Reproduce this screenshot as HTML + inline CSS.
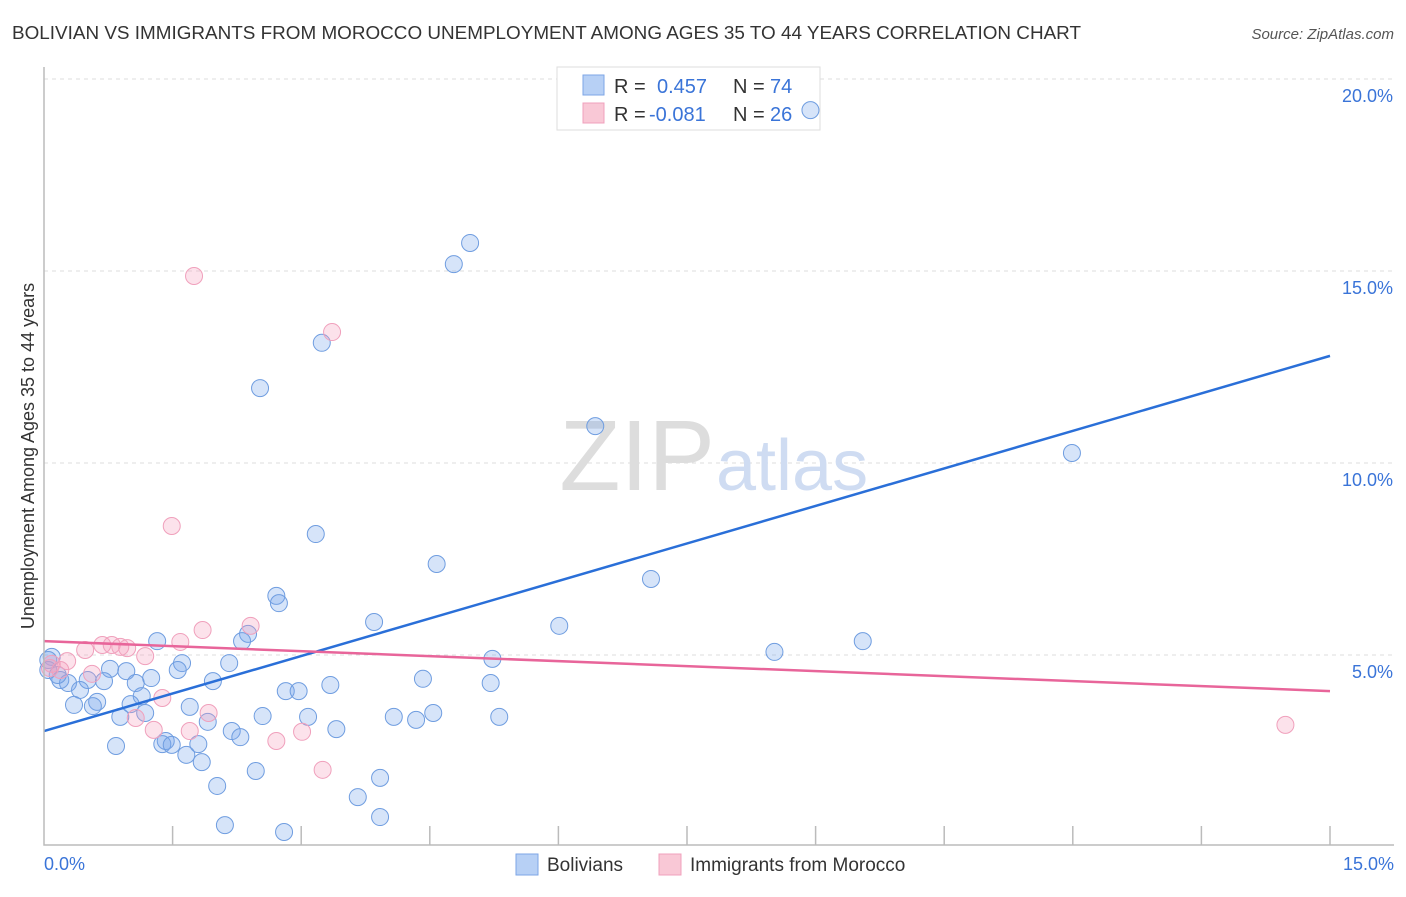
<!DOCTYPE html>
<html><head><meta charset="utf-8"><style>
body{margin:0;background:#fff;font-family:"Liberation Sans",sans-serif}
svg text{font-family:"Liberation Sans",sans-serif}
</style></head><body>
<svg width="1406" height="892" viewBox="0 0 1406 892">
<text x="12" y="39" font-size="18" fill="#333" textLength="1069" lengthAdjust="spacingAndGlyphs">BOLIVIAN VS IMMIGRANTS FROM MOROCCO UNEMPLOYMENT AMONG AGES 35 TO 44 YEARS CORRELATION CHART</text>
<text x="1394" y="39" font-size="15" fill="#555" text-anchor="end" font-style="italic">Source: ZipAtlas.com</text>
<g id="grid"></g>
<text x="715" y="490" font-size="100" fill="#ddd" text-anchor="end" font-family="Liberation Serif">ZIP</text>
<text x="716" y="490" font-size="72" fill="#cfdcf2">atlas</text>
<g>
<rect x="557" y="67" width="263" height="63" fill="#fff" stroke="#ddd"/>
<rect x="583" y="75" width="21" height="20" fill="#b7d0f5" stroke="#7ea6e6"/>
<rect x="583" y="103" width="21" height="20" fill="#f9c8d6" stroke="#f0a0bc"/>
<text x="614" y="93" font-size="20" fill="#333">R = </text><text x="657" y="93" font-size="20" fill="#3a74d8">0.457</text>
<text x="733" y="93" font-size="20" fill="#333">N = </text><text x="770" y="93" font-size="20" fill="#3a74d8">74</text>
<text x="614" y="121" font-size="20" fill="#333">R = </text><text x="649" y="121" font-size="20" fill="#3a74d8">-0.081</text>
<text x="733" y="121" font-size="20" fill="#333">N = </text><text x="770" y="121" font-size="20" fill="#3a74d8">26</text>
</g>
<g id="marks"></g>
<g id="axes"></g>
<text x="34" y="456" font-size="18" fill="#333" text-anchor="middle" transform="rotate(-90 34 456)">Unemployment Among Ages 35 to 44 years</text>
<g>
<rect x="516" y="854" width="22" height="21" fill="#b7d0f5" stroke="#7ea6e6"/>
<text x="547" y="871" font-size="19" fill="#333">Bolivians</text>
<rect x="659" y="854" width="22" height="21" fill="#f9c8d6" stroke="#f0a0bc"/>
<text x="690" y="871" font-size="19" fill="#333">Immigrants from Morocco</text>
</g>
</svg>
<script>
const yTicks=[5,10,15,20];
const yTickLabels=["5.0%","10.0%","15.0%","20.0%"];
const xTickVals=[0,1.5,3,4.5,6,7.5,9,10.5,12,13.5,15];
const xLabels=["0.0%","15.0%"];
const blueX=[8.94,4.97,4.78,3.24,2.52,6.43,11.99,3.17,4.58,7.08,2.71,2.74,3.85,6.01,1.32,2.38,2.31,9.55,8.52,5.23,1.61,2.16,0.09,0.05,0.77,1.56,0.96,0.19,0.28,1.07,1.25,1.97,0.70,0.51,0.42,3.34,4.42,5.21,2.82,2.97,1.14,0.35,0.62,0.57,1.01,1.70,0.89,1.18,2.55,3.08,4.08,4.54,5.31,1.91,4.34,2.19,2.29,3.41,1.42,1.38,1.49,1.80,0.84,1.66,1.84,2.47,3.92,2.02,3.66,3.92,2.11,2.80,0.16,0.05];
const blueY=[19.19,15.73,15.18,13.13,11.95,10.96,10.26,8.15,7.37,6.98,6.54,6.35,5.86,5.76,5.36,5.55,5.36,5.36,5.08,4.90,4.79,4.79,4.95,4.87,4.64,4.61,4.58,4.35,4.27,4.27,4.40,4.32,4.32,4.35,4.09,4.22,4.38,4.27,4.06,4.06,3.93,3.70,3.78,3.67,3.72,3.65,3.39,3.49,3.41,3.39,3.39,3.49,3.39,3.26,3.31,3.02,2.86,3.07,2.76,2.68,2.66,2.68,2.63,2.40,2.21,1.98,1.80,1.59,1.30,0.78,0.57,0.39,4.48,4.61];
const pinkX=[1.75,3.36,1.49,2.41,1.85,1.59,0.68,0.79,0.89,0.97,0.48,1.18,0.27,0.09,0.19,0.07,0.56,1.38,1.07,1.92,1.28,1.70,2.71,3.01,3.25,14.48];
const pinkY=[14.87,13.41,8.36,5.76,5.65,5.34,5.26,5.26,5.21,5.18,5.13,4.97,4.84,4.77,4.61,4.66,4.51,3.88,3.36,3.49,3.05,3.02,2.76,3.00,2.01,3.18];
const blueTrend=[3.02,12.79];
const pinkTrend=[5.36,4.06];
const trendX=[0,15];
const NS="http://www.w3.org/2000/svg";
const X0=44,X1=1330,Y0=847,PPY=38.4;
function sx(v){return X0+(X1-X0)*v/15;}
function sy(v){return Y0-v*PPY;}
function mk(tag,attrs,parent){const e=document.createElementNS(NS,tag);for(const k in attrs)e.setAttribute(k,attrs[k]);parent.appendChild(e);return e;}
const grid=document.getElementById('grid'),marks=document.getElementById('marks'),axes=document.getElementById('axes');
yTicks.forEach((t,i)=>{
  const l=mk('line',{x1:X0,x2:1394,y1:sy(t),y2:sy(t),stroke:'#ddd','stroke-dasharray':'4,4'},grid);
  
  
  const tx=mk('text',{x:1393,y:sy(t)+23,'font-size':18,fill:'#3a74d8','text-anchor':'end'},axes);
  tx.textContent=yTickLabels[i];
  
  
});
const ax=mk('path',{d:`M${X0} 67V845H1394`,fill:'none',stroke:'#bbb','stroke-width':1.5},axes);


xTickVals.forEach(t=>{
  if(t===0)return;
  const l=mk('line',{x1:sx(t),x2:sx(t),y1:826,y2:845,stroke:'#bbb','stroke-width':1.5},axes);
  
  
});
const xl0=mk('text',{x:44,y:870,'font-size':18,fill:'#3a74d8'},axes);
xl0.textContent=xLabels[0];


const xl1=mk('text',{x:1394,y:870,'font-size':18,fill:'#3a74d8','text-anchor':'end'},axes);
xl1.textContent=xLabels[1];


blueX.forEach((v,i)=>{
  const c=mk('circle',{cx:sx(v),cy:sy(blueY[i]),r:8.5,fill:'rgba(120,165,235,0.3)',stroke:'#6f9de0','stroke-width':1},marks);
  
  
});
pinkX.forEach((v,i)=>{
  const c=mk('circle',{cx:sx(v),cy:sy(pinkY[i]),r:8.5,fill:'rgba(245,160,190,0.3)',stroke:'#f0a0bc','stroke-width':1},marks);
  
  
});
const bl=mk('line',{x1:sx(trendX[0]),y1:sy(blueTrend[0]),x2:sx(trendX[1]),y2:sy(blueTrend[1]),stroke:'#2a6fd8','stroke-width':2.5},marks);


const pl=mk('line',{x1:sx(trendX[0]),y1:sy(pinkTrend[0]),x2:sx(trendX[1]),y2:sy(pinkTrend[1]),stroke:'#e8659a','stroke-width':2.5},marks);


</script>
</body></html>
